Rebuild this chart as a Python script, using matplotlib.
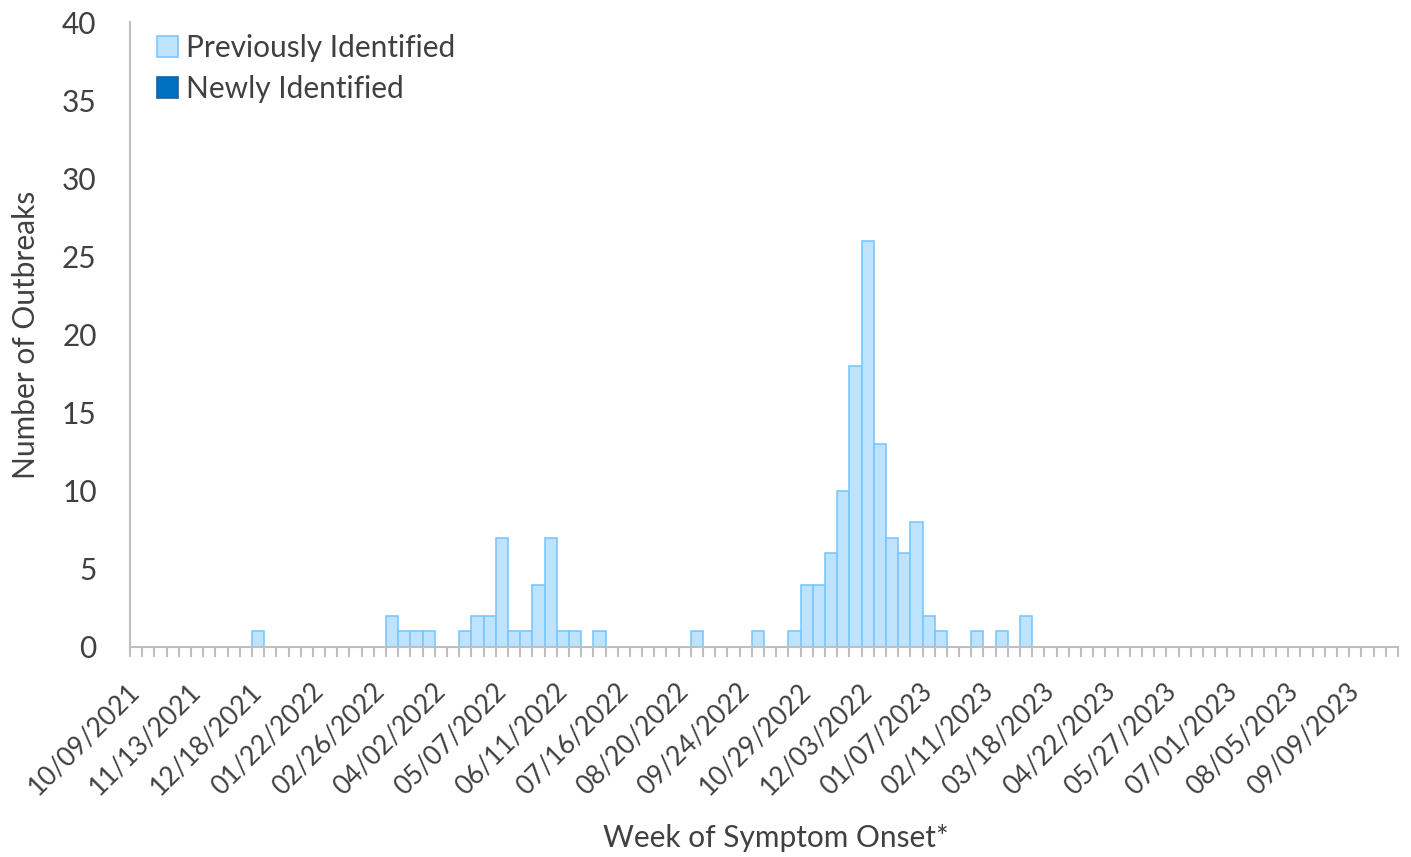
import matplotlib
matplotlib.use("Agg")
import matplotlib.pyplot as plt
from matplotlib.patches import Patch
import numpy as np

# one value per week, starting 10/09/2021 (104 weeks)
previously_identified = [
    0, 0, 0, 0, 0, 0, 0, 0, 0, 0,
    1, 0, 0, 0, 0, 0, 0, 0, 0, 0,
    0, 2, 1, 1, 1, 0, 0, 1, 2, 2,
    7, 1, 1, 4, 7, 1, 1, 0, 1, 0,
    0, 0, 0, 0, 0, 0, 1, 0, 0, 0,
    0, 1, 0, 0, 1, 4, 4, 6, 10, 18,
    26, 13, 7, 6, 8, 2, 1, 0, 0, 1,
    0, 1, 0, 2, 0, 0, 0, 0, 0, 0,
    0, 0, 0, 0, 0, 0, 0, 0, 0, 0,
    0, 0, 0, 0, 0, 0, 0, 0, 0, 0,
    0, 0, 0, 0,
]
newly_identified = [0] * len(previously_identified)

# labelled every 5th week
tick_labels = [
    "10/09/2021", "11/13/2021", "12/18/2021", "01/22/2022", "02/26/2022",
    "04/02/2022", "05/07/2022", "06/11/2022", "07/16/2022", "08/20/2022",
    "09/24/2022", "10/29/2022", "12/03/2022", "01/07/2023", "02/11/2023",
    "03/18/2023", "04/22/2023", "05/27/2023", "07/01/2023", "08/05/2023",
    "09/09/2023",
]

plt.rcParams["font.family"] = ["Lato", "DejaVu Sans"]
texte = "#404040"
gris = "#BFBFBF"
clair, clair_bord = "#BDE3FF", "#7CC7FF"
fonce, fonce_bord = "#0070C0", "#1F5F99"
taille = 21.5

fig = plt.figure(figsize=(14.11, 8.57), dpi=100)
ax = fig.add_axes([130 / 1411, 1 - 647 / 857, 1268 / 1411, 625 / 857])

n = len(previously_identified)
x = np.arange(n)
ax.bar(x, previously_identified, width=1.0, color=clair, edgecolor=clair_bord,
       linewidth=1.2)
# serie vide : pas de bord sinon on voit un trait sur chaque barre
ax.bar(x, newly_identified, width=1.0, bottom=previously_identified, color=fonce,
       linewidth=0)

ax.set_xlim(-0.5, n - 0.5)
ax.set_ylim(0, 40)
ax.set_yticks(range(0, 41, 5))
ax.tick_params(axis="y", length=0, pad=24, labelsize=taille, labelcolor=texte)

# labels au centre des semaines, petites graduations aux bords
ax.set_xticks(np.arange(0, n, 5))
ax.set_xticklabels(tick_labels, rotation=45, ha="right", va="center",
                   rotation_mode="anchor")
ax.tick_params(axis="x", which="major", length=0, pad=29, labelsize=19, labelcolor=texte)
ax.set_xticks(np.arange(-0.5, n, 1), minor=True)
ax.tick_params(axis="x", which="minor", length=7, width=1.5, color=gris, direction="out")

for s in ["top", "right"]:
    ax.spines[s].set_visible(False)
for s in ["left", "bottom"]:
    ax.spines[s].set_color(gris)
    ax.spines[s].set_linewidth(1.5)

ax.set_ylabel("Number of Outbreaks", fontsize=taille, color=texte, labelpad=16)
fig.text(776 / 1411, 1 - 838 / 857, "Week of Symptom Onset*", fontsize=taille,
         color=texte, ha="center", va="center")

handles = [
    Patch(facecolor=clair, edgecolor=clair_bord, linewidth=1.2, label="Previously Identified"),
    Patch(facecolor=fonce, edgecolor=fonce_bord, linewidth=1.2, label="Newly Identified"),
]
ax.legend(handles=handles, loc="upper left", bbox_to_anchor=(0.012, 1.0), frameon=False,
          fontsize=taille, labelcolor=texte, handlelength=0.7, handleheight=0.7,
          handletextpad=0.25, labelspacing=0.45, borderaxespad=0)

fig.savefig("out.png", dpi=100, facecolor="white")
